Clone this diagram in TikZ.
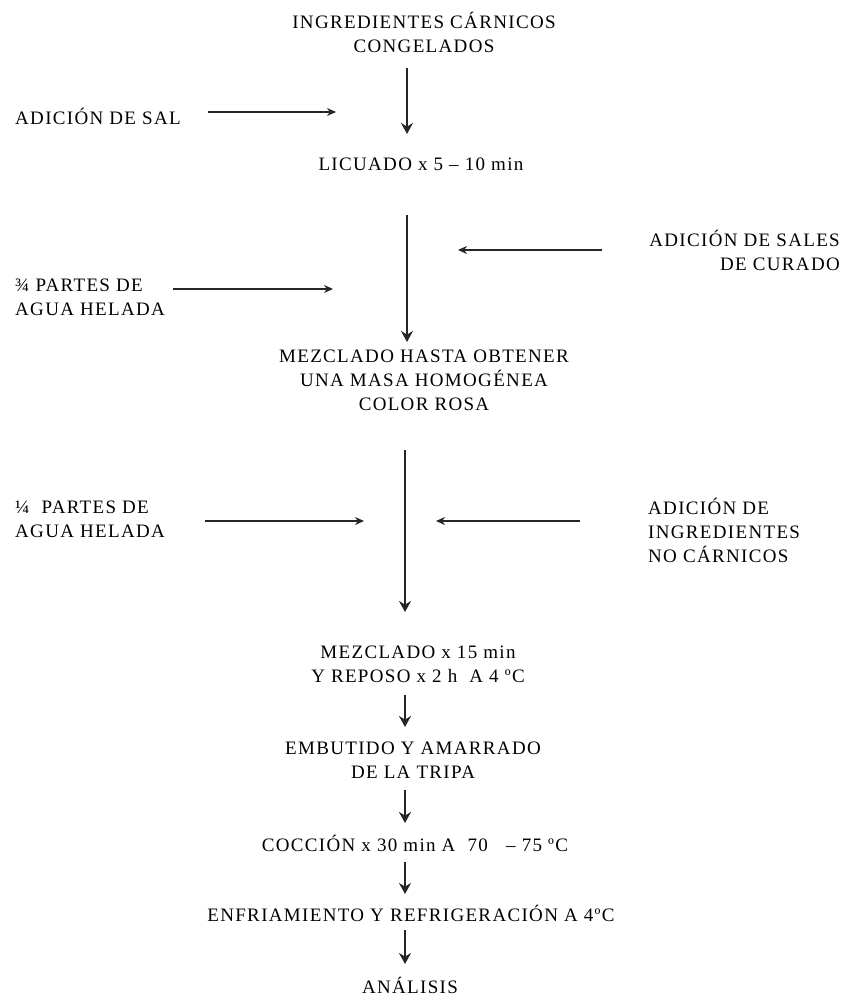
\documentclass[tikz,border=0pt]{standalone}
\usepackage{fontspec}
\setmainfont{Liberation Serif}[LetterSpace=7]
\usetikzlibrary{arrows.meta}
\begin{document}
\begin{tikzpicture}[x=1pt,y=-1pt,
  txt/.style={inner sep=0pt,align=center,font=\fontsize{19}{24}\selectfont},
  ltxt/.style={inner sep=0pt,align=left,font=\fontsize{19}{24}\selectfont},
  rtxt/.style={inner sep=0pt,align=right,font=\fontsize{19}{24}\selectfont},
  varrow/.style={line width=2.4pt,draw=black!85,-{Stealth[length=11pt,width=12pt]}},
  harrow/.style={line width=1.4pt,draw=black!85,-{Stealth[length=9pt,width=8pt]}}]
\useasboundingbox (0,0) rectangle (845,1000);
% main column
\node[txt] (ing) at (424,32) {INGREDIENTES CÁRNICOS\\CONGELADOS};
\node[txt] (lic) at (421,164) {LICUADO x 5 – 10 min};
\node[txt] (mez) at (424,380) {MEZCLADO HASTA OBTENER\\UNA MASA HOMOGÉNEA\\COLOR ROSA};
\node[txt] (mez2) at (418,664) {MEZCLADO x 15 min\\Y REPOSO x 2 h\ \ A 4 ºC};
\node[txt] (emb) at (413,760) {EMBUTIDO Y AMARRADO\\DE LA TRIPA};
\node[txt] (coc) at (415,843) {COCCIÓN x 30 min A\ \ 70\ \ \ – 75 ºC};
\node[txt] (enf) at (411,913) {ENFRIAMIENTO Y REFRIGERACIÓN A 4ºC};
\node[txt] (ana) at (410,985) {ANÁLISIS};
% side inputs
\node[ltxt,anchor=west] (sal) at (15,116) {ADICIÓN DE SAL};
\node[rtxt,anchor=east] (cur) at (840,250) {ADICIÓN DE SALES\\DE CURADO};
\node[ltxt,anchor=west] (agua1) at (15,297) {¾ PARTES DE\\AGUA HELADA};
\node[ltxt,anchor=west] (agua2) at (15,519) {¼\ \ PARTES DE\\AGUA HELADA};
\node[ltxt,anchor=west] (noc) at (648,530) {ADICIÓN DE\\INGREDIENTES\\NO CÁRNICOS};
% arrow end points
\coordinate (a1s) at (407,68);  \coordinate (a1e) at (407,134);
\coordinate (a2s) at (407,215); \coordinate (a2e) at (407,342);
\coordinate (a3s) at (405,450); \coordinate (a3e) at (405,612);
\coordinate (a4s) at (405,695); \coordinate (a4e) at (405,727);
\coordinate (a5s) at (405,790); \coordinate (a5e) at (405,823);
\coordinate (a6s) at (405,862); \coordinate (a6e) at (405,894);
\coordinate (a7s) at (405,930); \coordinate (a7e) at (405,964);
\coordinate (h1s) at (208,112); \coordinate (h1e) at (336,112);
\coordinate (h2s) at (602,250); \coordinate (h2e) at (458,250);
\coordinate (h3s) at (173,289); \coordinate (h3e) at (333,289);
\coordinate (h4s) at (205,521); \coordinate (h4e) at (364,521);
\coordinate (h5s) at (580,521); \coordinate (h5e) at (436,521);
% vertical arrows
\draw[varrow] (a1s) -- (a1e);
\draw[varrow] (a2s) -- (a2e);
\draw[varrow] (a3s) -- (a3e);
\draw[varrow] (a4s) -- (a4e);
\draw[varrow] (a5s) -- (a5e);
\draw[varrow] (a6s) -- (a6e);
\draw[varrow] (a7s) -- (a7e);
% horizontal arrows
\draw[harrow] (h1s) -- (h1e);
\draw[harrow] (h2s) -- (h2e);
\draw[harrow] (h3s) -- (h3e);
\draw[harrow] (h4s) -- (h4e);
\draw[harrow] (h5s) -- (h5e);
\end{tikzpicture}
\end{document}
